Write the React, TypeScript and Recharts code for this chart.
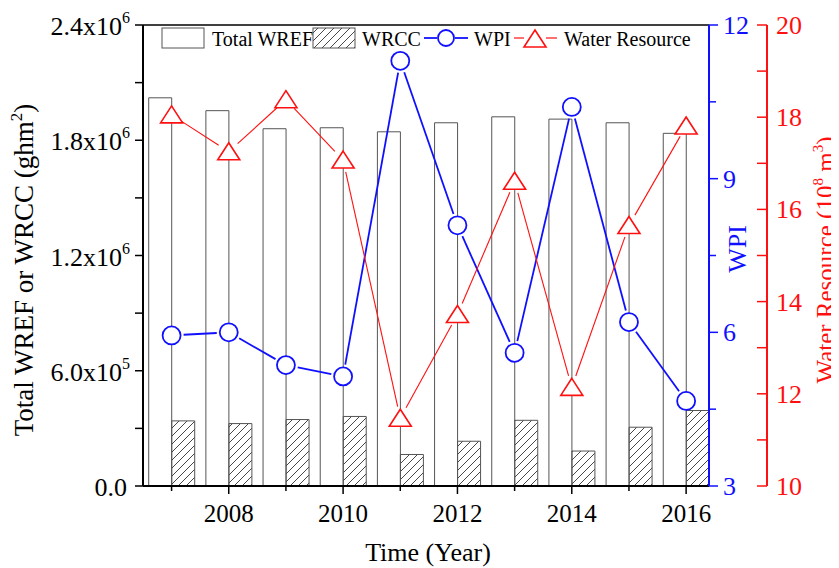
import React from 'react';
import { ComposedChart, Bar, Line, XAxis, YAxis, ReferenceLine, Legend } from 'recharts';

const FONT = '"Liberation Serif", "Times New Roman", serif';
const BLUE = '#1010ff';
const RED = '#ff1010';

const years = [2007, 2008, 2009, 2010, 2011, 2012, 2013, 2014, 2015, 2016];
const totalWref = [2.021e6, 1.954e6, 1.86e6, 1.865e6, 1.844e6, 1.891e6, 1.922e6, 1.91e6, 1.891e6, 1.836e6];
const wrcc = [3.39e5, 3.25e5, 3.46e5, 3.62e5, 1.64e5, 2.33e5, 3.42e5, 1.82e5, 3.06e5, 3.93e5];
const wpi = [5.94, 6.0, 5.36, 5.14, 11.3, 8.09, 5.6, 10.4, 6.2, 4.66];
const waterResource = [18.05, 17.25, 18.38, 17.07, 11.47, 13.72, 16.61, 12.14, 15.65, 17.81];

const leftTicks = [0, 3e5, 6e5, 9e5, 1.2e6, 1.5e6, 1.8e6, 2.1e6, 2.4e6];
const wpiTicks = [3, 4.5, 6, 7.5, 9, 10.5, 12];
const wrTicks = [10, 11, 12, 13, 14, 15, 16, 17, 18, 19, 20];

const data = years.map((year, i) => ({
  year,
  total: totalWref[i],
  wrcc: wrcc[i],
  wpi: wpi[i],
  wr: waterResource[i],
}));

const XTick = ({ x, y, payload }: any) => {
  const v = payload.value;
  const major = v % 2 === 0;
  return (
    <g>
      <line x1={x} x2={x} y1={y} y2={y + (major ? 8 : 5)} stroke="#000" strokeWidth={1.5} />
      {major && (
        <text x={x} y={y + 36} textAnchor="middle" fontSize={25} fontFamily={FONT} fill="#000">
          {v}
        </text>
      )}
    </g>
  );
};

const LeftTick = ({ x, y, payload }: any) => {
  const v = payload.value;
  const major = Math.round(v / 3e5) % 2 === 0;
  let label = null;
  if (major) {
    if (v === 0) {
      label = (
        <text x={x - 16} y={y + 10} textAnchor="end" fontSize={26} fontFamily={FONT} fill="#000">
          0.0
        </text>
      );
    } else {
      const e = Math.floor(Math.log10(v));
      const m = (v / Math.pow(10, e)).toFixed(1);
      label = (
        <text x={x - 13} y={y + 10} textAnchor="end" fontSize={26} fontFamily={FONT} fill="#000">
          {m}x10<tspan dy={-12} fontSize={16}>{e}</tspan>
        </text>
      );
    }
  }
  return (
    <g>
      <line x1={x} x2={x - 8} y1={y} y2={y} stroke="#000" strokeWidth={1.5} />
      {label}
    </g>
  );
};

const WpiTick = ({ x, y, payload }: any) => {
  const v = payload.value;
  const major = (v - 3) % 3 === 0;
  return (
    <g>
      <line x1={x} x2={x + (major ? 9 : 7)} y1={y} y2={y} stroke={BLUE} strokeWidth={1.5} />
      {major && (
        <text x={x + 14} y={y + 9} fontSize={26} fontFamily={FONT} fill={BLUE}>
          {v}
        </text>
      )}
    </g>
  );
};

const WrTick = ({ x, y, payload }: any) => {
  const v = payload.value;
  const major = v % 2 === 0;
  return (
    <g>
      <line x1={x - 10} x2={x} y1={y} y2={y} stroke={RED} strokeWidth={1.5} />
      {major && (
        <text x={x + 9} y={y + 9} fontSize={26} fontFamily={FONT} fill={RED}>
          {v}
        </text>
      )}
    </g>
  );
};

const LeftTitle = () => (
  <text transform="translate(25,262) rotate(-90)" textAnchor="middle" fontSize={27} fontFamily={FONT} fill="#000">
    Total WREF or WRCC (ghm<tspan dy={-11} fontSize={17}>2</tspan>
    <tspan dy={11}>)</tspan>
  </text>
);

const WpiTitle = () => (
  <text transform="translate(738,241) rotate(-90)" textAnchor="middle" fontSize={26} fontFamily={FONT} fill={BLUE}>
    WPI
  </text>
);

const WrTitle = () => (
  <text transform="translate(826,252) rotate(-90)" textAnchor="middle" fontSize={25} fontFamily={FONT} fill={RED}>
    Water Resource (10<tspan dy={-11} fontSize={15}>8</tspan>
    <tspan dy={11}> m</tspan>
    <tspan dy={-11} fontSize={15}>3</tspan>
    <tspan dy={11}>)</tspan>
  </text>
);

const XTitle = () => (
  <text x={420} y={553} textAnchor="middle" fontSize={26} fontFamily={FONT} fill="#000">
    Time (Year)
  </text>
);

const triangle = (cx: number, cy: number) =>
  `${cx},${cy - 9} ${cx + 11},${cy + 8} ${cx - 11},${cy + 8}`;

// marker plus a segment to the next point, with a small gap round each marker
const makeDot = (kind: 'circle' | 'triangle', color: string, width: number, gap: number) => (props: any) => {
  const { cx, cy, index, points } = props;
  const next = points && points[index + 1];
  let seg = null;
  if (next) {
    const dx = next.x - cx;
    const dy = next.y - cy;
    const len = Math.hypot(dx, dy);
    if (len > gap * 2) {
      seg = (
        <line
          x1={cx + (dx / len) * gap}
          y1={cy + (dy / len) * gap}
          x2={next.x - (dx / len) * gap}
          y2={next.y - (dy / len) * gap}
          stroke={color}
          strokeWidth={width}
        />
      );
    }
  }
  return (
    <g key={`d-${kind}-${index}`}>
      {seg}
      {kind === 'circle' ? (
        <circle cx={cx} cy={cy} r={9} fill="#fff" stroke={color} strokeWidth={1.8} />
      ) : (
        <polygon points={triangle(cx, cy)} fill="#fff" stroke={color} strokeWidth={1.6} />
      )}
    </g>
  );
};

const LegendBox = () => (
  <svg width={540} height={26} style={{ display: 'block' }}>
    <defs>
      <pattern id="hatchLegend" patternUnits="userSpaceOnUse" width={8} height={8}>
        <path d="M-2,2 L2,-2 M0,8 L8,0 M6,10 L10,6" stroke="#333" strokeWidth={0.9} />
      </pattern>
    </defs>
    <g fontFamily={FONT} fontSize={20} fill="#000">
      <rect x={2} y={2} width={42} height={20} fill="#fff" stroke="#555" strokeWidth={1} />
      <text x={52} y={20}>Total WREF</text>
      <rect x={153} y={2} width={42} height={20} fill="url(#hatchLegend)" stroke="#555" strokeWidth={1} />
      <text x={202} y={20}>WRCC</text>
      <line x1={264} x2={277} y1={12} y2={12} stroke={BLUE} strokeWidth={1.8} />
      <line x1={295} x2={308} y1={12} y2={12} stroke={BLUE} strokeWidth={1.8} />
      <circle cx={286} cy={12} r={8} fill="#fff" stroke={BLUE} strokeWidth={1.8} />
      <text x={314} y={20}>WPI</text>
      <line x1={354} x2={364} y1={12} y2={12} stroke={RED} strokeWidth={1.2} />
      <line x1={386} x2={397} y1={12} y2={12} stroke={RED} strokeWidth={1.2} />
      <polygon points={triangle(375, 13)} fill="#fff" stroke={RED} strokeWidth={1.6} />
      <text x={404} y={20}>Water Resource</text>
    </g>
  </svg>
);

export default function App() {
  return (
    <div style={{ position: 'relative' }}>
      <svg width={0} height={0} style={{ position: 'absolute' }}>
        <defs>
          <pattern id="hatchChart" patternUnits="userSpaceOnUse" width={8} height={8}>
            <path d="M-2,2 L2,-2 M0,8 L8,0 M6,10 L10,6" stroke="#333" strokeWidth={0.9} />
          </pattern>
        </defs>
      </svg>
      <ComposedChart
        width={831}
        height={560}
        data={data}
        margin={{ top: 17, right: 0, bottom: 0, left: 0 }}
        barGap={0}
        barCategoryGap="10%"
      >
        <XAxis
          dataKey="year"
          type="number"
          domain={[2006.5, 2016.4]}
          ticks={years}
          interval={0}
          height={82}
          tickSize={0}
          tickMargin={0}
          tickLine={false}
          tick={<XTick />}
          axisLine={{ stroke: '#000', strokeWidth: 2 }}
          label={<XTitle />}
        />
        <YAxis
          yAxisId="left"
          orientation="left"
          width={135}
          domain={[0, 2.4e6]}
          ticks={leftTicks}
          interval={0}
          tickSize={0}
          tickMargin={0}
          tickLine={false}
          tick={<LeftTick />}
          axisLine={{ stroke: '#000', strokeWidth: 2 }}
          label={<LeftTitle />}
        />
        <YAxis
          yAxisId="wpi"
          orientation="right"
          width={58}
          domain={[3, 12]}
          ticks={wpiTicks}
          interval={0}
          tickSize={0}
          tickMargin={0}
          tickLine={false}
          tick={<WpiTick />}
          axisLine={{ stroke: BLUE, strokeWidth: 2 }}
          label={<WpiTitle />}
        />
        <YAxis
          yAxisId="wr"
          orientation="right"
          width={72}
          domain={[10, 20]}
          ticks={wrTicks}
          interval={0}
          tickSize={0}
          tickMargin={0}
          tickLine={false}
          tick={<WrTick />}
          axisLine={{ stroke: RED, strokeWidth: 2 }}
          label={<WrTitle />}
        />
        <ReferenceLine yAxisId="left" y={2.4e6} stroke="#000" strokeWidth={1.5} />
        <Legend
          layout="vertical"
          align="center"
          verticalAlign="middle"
          wrapperStyle={{ top: 18, left: 152, width: 540, height: 26 }}
          content={() => <LegendBox />}
        />
        <Bar
          yAxisId="left"
          dataKey="total"
          fill="#fff"
          stroke="#555"
          strokeWidth={1}
          isAnimationActive={false}
        />
        <Bar
          yAxisId="left"
          dataKey="wrcc"
          fill="url(#hatchChart)"
          stroke="#555"
          strokeWidth={1}
          isAnimationActive={false}
        />
        <Line
          yAxisId="wpi"
          dataKey="wpi"
          stroke="none"
          dot={makeDot('circle', BLUE, 1.8, 12)}
          activeDot={false}
          isAnimationActive={false}
        />
        <Line
          yAxisId="wr"
          dataKey="wr"
          stroke="none"
          dot={makeDot('triangle', RED, 1.1, 12)}
          activeDot={false}
          isAnimationActive={false}
        />
      </ComposedChart>
    </div>
  );
}
